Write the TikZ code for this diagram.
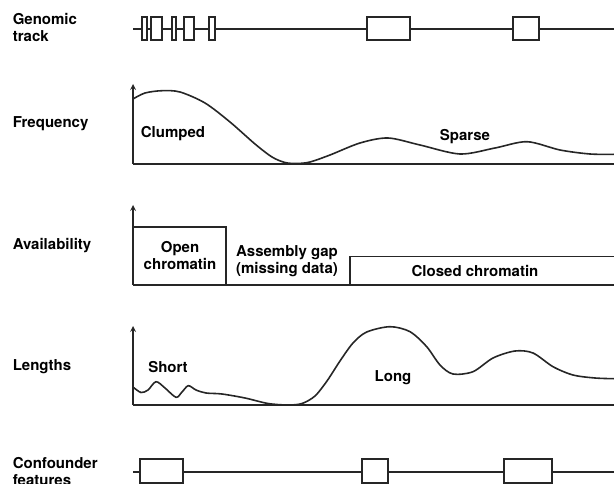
\documentclass[tikz,border=0pt]{standalone}
\usepackage{fontspec}
\setmainfont{TeX Gyre Heros}
\usetikzlibrary{arrows}
\definecolor{ink}{gray}{0.15}

\begin{document}
\begin{tikzpicture}[x=1pt, y=-1pt, line width=1.6pt, color=ink,
    lbl/.style={font=\fontsize{15}{17}\selectfont\bfseries, text=black, inner sep=0pt},
    exon/.style={draw=ink, fill=white, line width=1.7pt},
    axis/.style={->, >=stealth}]
  \useasboundingbox (0,0) rectangle (614,484);

  % genomic track
  \node[lbl, align=left, anchor=west] (genomic) at (12,27.5) {Genomic\\track};
  \draw (133,29) -- (614,29);
  \foreach \a/\b in {141.7/146.7, 151/161.7, 171.7/176, 184/193.7, 209/214.7, 366.7/410, 513.3/539.3}
    \draw[exon] (\a,16.7) rectangle (\b,40);

  % frequency
  \node[lbl, anchor=base west] (freq) at (12,128) {Frequency};
  \draw[axis] (133,164) -- (133,84);
  \draw (133,164) -- (614,164);
  \draw plot[smooth] coordinates {(133,99) (145,93) (162,90.7) (180,92) (205,103) (230,122)
    (255,144) (272,157) (285,162.5) (297,163.5) (310,162) (330,155) (360,143) (388,138)
    (420,145) (460,154) (495,148) (527,141.7) (560,150) (590,154) (614,154.3)};
  \node[lbl, anchor=base] (clumped) at (173,137.5) {Clumped};
  \node[lbl, anchor=base] (sparse) at (465,140.5) {Sparse};

  % availability
  \node[lbl, anchor=base west] (avail) at (12,249.5) {Availability};
  \draw[axis] (133,285) -- (133,205);
  \draw (133,285) -- (614,285);
  \draw (133,227) -- (226,227) -- (226,285);
  \draw (350,285) -- (350,256.5) -- (614,256.5);
  \node[lbl, align=center] (open) at (180,256) {Open\\chromatin};
  \node[lbl, align=center] (gap) at (287,261.5) {Assembly gap\\(missing data)};
  \node[lbl, anchor=base] (closed) at (475,276.5) {Closed chromatin};

  % lengths
  \node[lbl, anchor=base west] (lengths) at (12,370.5) {Lengths};
  \draw[axis] (133,405) -- (133,326);
  \draw (133,405) -- (614,405);
  \draw plot[smooth] coordinates {(133,387) (141,392.5) (148,390) (156,381.7) (165,388)
    (176,397.3) (182,392) (188.3,385.7) (196,390) (206,393) (222,394) (245,398)
    (268,403.5) (288,405) (302,403.5) (315,396) (327,381) (340,361) (353,343) (366.7,332)
    (390,326.7) (410,331.7) (426.7,346.7) (440,365) (453,374) (473,371.7) (493,358)
    (515,351) (533,353) (553,366.7) (573,375) (595,378) (614,378.7)};
  \node[lbl, anchor=base] (short) at (168,372.5) {Short};
  \node[lbl, anchor=base] (long) at (393,381.5) {Long};

  % confounder features
  \node[lbl, align=left, anchor=west] (confound) at (12,471.5) {Confounder\\features};
  \draw (133,471.7) -- (614,471.7);
  \foreach \a/\b in {140/183.3, 361.7/387.7, 504/552.3}
    \draw[exon] (\a,459.3) rectangle (\b,482.7);
\end{tikzpicture}
\end{document}
